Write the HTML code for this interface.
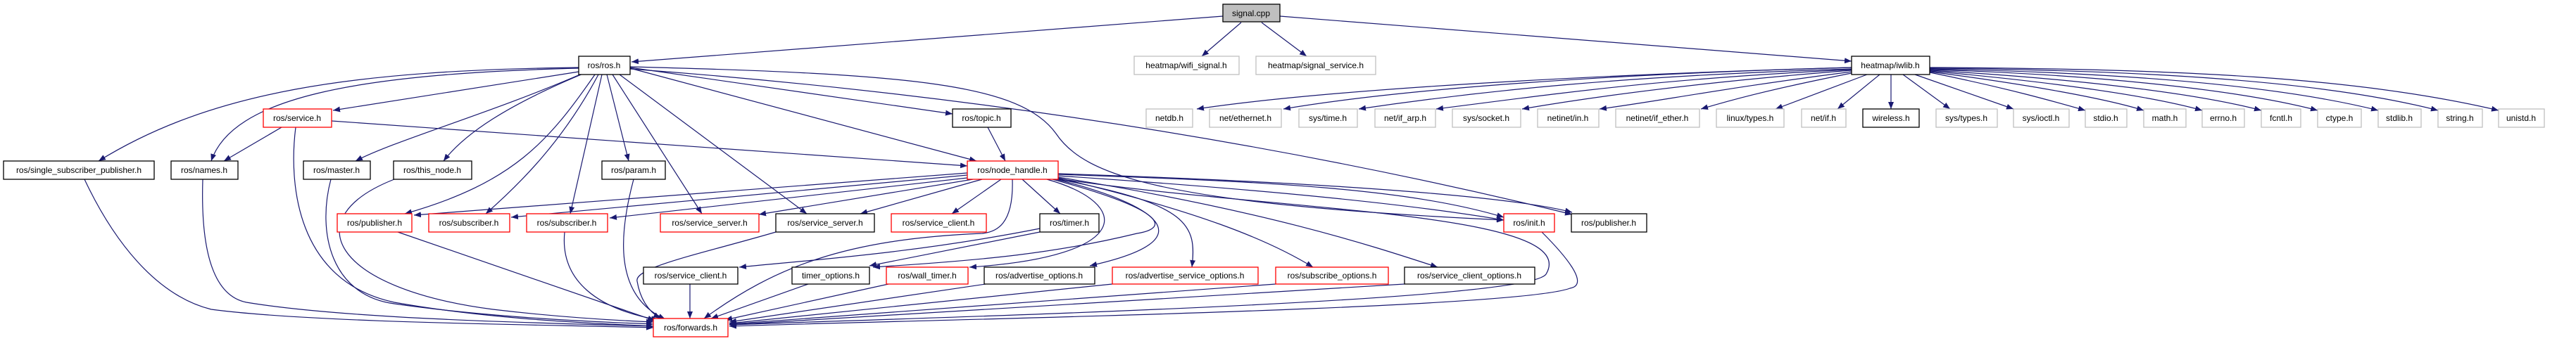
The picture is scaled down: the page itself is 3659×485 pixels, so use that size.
<!DOCTYPE html>
<html><head><meta charset="utf-8"><style>
html,body{margin:0;padding:0;background:#fff;}
svg{display:block;}
text{font-family:"Liberation Sans",sans-serif;font-size:12px;text-anchor:middle;fill:#000;}
.e{fill:none;stroke:#191970;stroke-width:1.2;marker-end:url(#a);}
.b{fill:#fff;stroke:#000;stroke-width:1.3;}
.g{fill:#fff;stroke:#bfbfbf;stroke-width:1.3;}
.r{fill:#fff;stroke:#ff0000;stroke-width:1.3;}
</style></head><body>
<svg width="3659" height="485" viewBox="0 0 3659 485" xmlns="http://www.w3.org/2000/svg">
<defs><marker id="a" markerUnits="userSpaceOnUse" markerWidth="11" markerHeight="8" refX="10" refY="4" orient="auto"><path d="M0,0 L10,4 L0,8 z" fill="#191970"/></marker></defs>
<g>
<!-- signal.cpp -->
<path class="e" d="M1737,23 L897,88"/>
<path class="e" d="M1763,32 L1707,80"/>
<path class="e" d="M1792,32 L1856,80"/>
<path class="e" d="M1818,23 L2630,87"/>
<!-- iwlib -->
<path class="e" d="M2630,96 C2300,105 1900,125 1700,155"/>
<path class="e" d="M2630,96 C2300,105 2000,125 1823,155"/>
<path class="e" d="M2630,98 C2300,108 2100,130 1930,155"/>
<path class="e" d="M2630,99 C2350,112 2200,135 2040,155"/>
<path class="e" d="M2630,100 C2400,118 2250,140 2162,155"/>
<path class="e" d="M2630,102 C2450,125 2350,145 2272,155"/>
<path class="e" d="M2630,104 C2500,130 2450,145 2416,155"/>
<path class="e" d="M2652,106 L2522,155"/>
<path class="e" d="M2670,106 L2610,155"/>
<path class="e" d="M2686,106 L2686,155"/>
<path class="e" d="M2703,106 L2770,155"/>
<path class="e" d="M2720,106 L2860,155"/>
<path class="e" d="M2741,103 C2850,125 2920,145 2962,157"/>
<path class="e" d="M2741,102 C2880,120 2990,140 3045,157"/>
<path class="e" d="M2741,101 C2900,115 3050,135 3128,157"/>
<path class="e" d="M2741,100 C2920,110 3110,130 3212,157"/>
<path class="e" d="M2741,99 C2950,105 3170,125 3292,157"/>
<path class="e" d="M2741,98 C3000,103 3230,120 3378,157"/>
<path class="e" d="M2741,97 C3050,100 3300,115 3463,157"/>
<path class="e" d="M2741,96 C3100,98 3350,110 3549,157"/>
<!-- ros.h -->
<path class="e" d="M822,102 L473,157"/>
<path class="e" d="M822,96 C500,100 300,130 140,229"/>
<path class="e" d="M822,97 C500,105 330,140 300,229"/>
<path class="e" d="M826,105 C700,160 560,200 505,229"/>
<path class="e" d="M828,105 C720,150 660,190 630,229"/>
<path class="e" d="M845,106 C780,200 730,260 575,304"/>
<path class="e" d="M850,106 C800,200 740,260 690,304"/>
<path class="e" d="M855,106 L810,304"/>
<path class="e" d="M862,106 L893,229"/>
<path class="e" d="M870,106 L997,304"/>
<path class="e" d="M880,106 L1146,304"/>
<path class="e" d="M895,97 L1387,229"/>
<path class="e" d="M895,96 L1353,162"/>
<path class="e" d="M895,95 C1300,105 1450,120 1500,190 C1540,250 1650,290 2136,313"/>
<path class="e" d="M895,98 Q1600,150 2233,305"/>
<!-- service.h -->
<path class="e" d="M400,181 L318,229"/>
<path class="e" d="M420,181 C410,260 420,400 560,430 C700,455 850,460 928,464"/>
<path class="e" d="M471,172 L1374,236"/>
<!-- topic -->
<path class="e" d="M1403,181 L1428,229"/>
<!-- node_handle -->
<path class="e" d="M1374,246 L588,306"/>
<path class="e" d="M1374,249 L726,309"/>
<path class="e" d="M1374,253 L866,310"/>
<path class="e" d="M1382,255 L1078,305"/>
<path class="e" d="M1395,255 L1222,304"/>
<path class="e" d="M1422,255 L1352,304"/>
<path class="e" d="M1452,255 L1506,304"/>
<path class="e" d="M1438,255 C1440,320 1415,330 1395,332 C1200,340 1100,380 1000,453"/>
<path class="e" d="M1487,255 C1610,290 1610,365 1377,380"/>
<path class="e" d="M1495,255 C1660,300 1660,325 1615,332 C1500,360 1400,370 1240,380"/>
<path class="e" d="M1500,255 C1640,290 1720,340 1548,378"/>
<path class="e" d="M1503,255 C1690,290 1700,320 1693,380"/>
<path class="e" d="M1503,253 C1700,300 1800,340 1865,380"/>
<path class="e" d="M1503,252 C1800,300 1950,350 2042,380"/>
<path class="e" d="M1503,250 C1800,270 2000,290 2136,313"/>
<path class="e" d="M1503,248 C1800,258 2000,268 2136,309"/>
<path class="e" d="M1503,247 C1900,260 2150,280 2233,302"/>
<path class="e" d="M1503,254 C1800,300 2250,300 2196,390 C2170,430 1300,452 1036,462"/>
<!-- timer -->
<path class="e" d="M1477,325 C1300,360 1150,370 1050,380"/>
<path class="e" d="M1477,330 L1235,378"/>
<!-- init -->
<path class="e" d="M2190,330 C2220,360 2260,405 2230,410 C2150,440 1300,455 1036,464"/>
<!-- to forwards -->
<path class="e" d="M120,255 C160,340 220,420 300,440 C450,460 800,462 928,466"/>
<path class="e" d="M288,255 C285,350 300,420 350,430 C500,455 800,460 928,464"/>
<path class="e" d="M470,255 C450,330 470,420 560,432 C700,452 850,458 928,461"/>
<path class="e" d="M560,255 C420,310 470,410 700,440 C800,452 880,456 928,458"/>
<path class="e" d="M565,330 L930,456"/>
<path class="e" d="M802,330 C795,400 850,440 935,455"/>
<path class="e" d="M900,255 C880,330 870,420 945,454"/>
<path class="e" d="M1102,330 C1000,360 900,380 905,400 C910,430 925,445 938,453"/>
<path class="e" d="M980,404 L980,453"/>
<path class="e" d="M1148,404 L1010,453"/>
<path class="e" d="M1262,404 L1030,455"/>
<path class="e" d="M1400,404 L1036,458"/>
<path class="e" d="M1580,404 L1036,460"/>
<path class="e" d="M1812,404 L1036,461"/>
<path class="e" d="M1995,404 L1036,462"/>
</g>
<!-- nodes -->
<rect x="1737" y="6" width="81" height="25" fill="#bfbfbf" stroke="#000" stroke-width="1.3"/><text x="1777" y="23">signal.cpp</text>
<rect class="b" x="822" y="80" width="73" height="26"/><text x="858" y="97">ros/ros.h</text>
<rect class="g" x="1611" y="80" width="149" height="26"/><text x="1685" y="97">heatmap/wifi_signal.h</text>
<rect class="g" x="1784" y="80" width="170" height="26"/><text x="1869" y="97">heatmap/signal_service.h</text>
<rect class="b" x="2630" y="80" width="111" height="26"/><text x="2685" y="97">heatmap/iwlib.h</text>

<rect class="r" x="374" y="155" width="97" height="26"/><text x="422" y="172">ros/service.h</text>
<rect class="b" x="1353" y="155" width="83" height="26"/><text x="1394" y="172">ros/topic.h</text>
<rect class="g" x="1628" y="155" width="66" height="26"/><text x="1661" y="172">netdb.h</text>
<rect class="g" x="1718" y="155" width="102" height="26"/><text x="1769" y="172">net/ethernet.h</text>
<rect class="g" x="1845" y="155" width="83" height="26"/><text x="1886" y="172">sys/time.h</text>
<rect class="g" x="1953" y="155" width="86" height="26"/><text x="1996" y="172">net/if_arp.h</text>
<rect class="g" x="2063" y="155" width="97" height="26"/><text x="2111" y="172">sys/socket.h</text>
<rect class="g" x="2184" y="155" width="87" height="26"/><text x="2227" y="172">netinet/in.h</text>
<rect class="g" x="2295" y="155" width="119" height="26"/><text x="2354" y="172">netinet/if_ether.h</text>
<rect class="g" x="2438" y="155" width="96" height="26"/><text x="2486" y="172">linux/types.h</text>
<rect class="g" x="2559" y="155" width="63" height="26"/><text x="2590" y="172">net/if.h</text>
<rect class="b" x="2646" y="155" width="80" height="26"/><text x="2686" y="172">wireless.h</text>
<rect class="g" x="2750" y="155" width="87" height="26"/><text x="2793" y="172">sys/types.h</text>
<rect class="g" x="2860" y="155" width="79" height="26"/><text x="2899" y="172">sys/ioctl.h</text>
<rect class="g" x="2962" y="155" width="59" height="26"/><text x="2991" y="172">stdio.h</text>
<rect class="g" x="3045" y="155" width="60" height="26"/><text x="3075" y="172">math.h</text>
<rect class="g" x="3128" y="155" width="60" height="26"/><text x="3158" y="172">errno.h</text>
<rect class="g" x="3212" y="155" width="56" height="26"/><text x="3240" y="172">fcntl.h</text>
<rect class="g" x="3292" y="155" width="62" height="26"/><text x="3323" y="172">ctype.h</text>
<rect class="g" x="3378" y="155" width="61" height="26"/><text x="3408" y="172">stdlib.h</text>
<rect class="g" x="3463" y="155" width="63" height="26"/><text x="3494" y="172">string.h</text>
<rect class="g" x="3549" y="155" width="65" height="26"/><text x="3581" y="172">unistd.h</text>

<rect class="b" x="5" y="229" width="214" height="26"/><text x="112" y="246">ros/single_subscriber_publisher.h</text>
<rect class="b" x="243" y="229" width="95" height="26"/><text x="290" y="246">ros/names.h</text>
<rect class="b" x="431" y="229" width="95" height="26"/><text x="478" y="246">ros/master.h</text>
<rect class="b" x="559" y="229" width="111" height="26"/><text x="614" y="246">ros/this_node.h</text>
<rect class="b" x="855" y="229" width="90" height="26"/><text x="900" y="246">ros/param.h</text>
<rect class="r" x="1374" y="229" width="129" height="26"/><text x="1438" y="246">ros/node_handle.h</text>

<rect class="r" x="479" y="304" width="106" height="26"/><text x="532" y="321">ros/publisher.h</text>
<rect class="r" x="609" y="304" width="115" height="26"/><text x="666" y="321">ros/subscriber.h</text>
<rect class="r" x="748" y="304" width="115" height="26"/><text x="805" y="321">ros/subscriber.h</text>
<rect class="r" x="938" y="304" width="140" height="26"/><text x="1008" y="321">ros/service_server.h</text>
<rect class="b" x="1102" y="304" width="140" height="26"/><text x="1172" y="321">ros/service_server.h</text>
<rect class="r" x="1266" y="304" width="135" height="26"/><text x="1333" y="321">ros/service_client.h</text>
<rect class="b" x="1477" y="304" width="84" height="26"/><text x="1519" y="321">ros/timer.h</text>
<rect class="r" x="2136" y="304" width="72" height="26"/><text x="2172" y="321">ros/init.h</text>
<rect class="b" x="2232" y="304" width="107" height="26"/><text x="2285" y="321">ros/publisher.h</text>

<rect class="b" x="914" y="380" width="134" height="24"/><text x="981" y="396">ros/service_client.h</text>
<rect class="b" x="1125" y="380" width="110" height="24"/><text x="1180" y="396">timer_options.h</text>
<rect class="r" x="1259" y="380" width="116" height="24"/><text x="1317" y="396">ros/wall_timer.h</text>
<rect class="b" x="1398" y="380" width="157" height="24"/><text x="1476" y="396">ros/advertise_options.h</text>
<rect class="r" x="1580" y="380" width="207" height="24"/><text x="1683" y="396">ros/advertise_service_options.h</text>
<rect class="r" x="1812" y="380" width="160" height="24"/><text x="1892" y="396">ros/subscribe_options.h</text>
<rect class="b" x="1995" y="380" width="185" height="24"/><text x="2087" y="396">ros/service_client_options.h</text>

<rect class="r" x="928" y="453" width="106" height="26"/><text x="981" y="470">ros/forwards.h</text>
</svg>
</body></html>
